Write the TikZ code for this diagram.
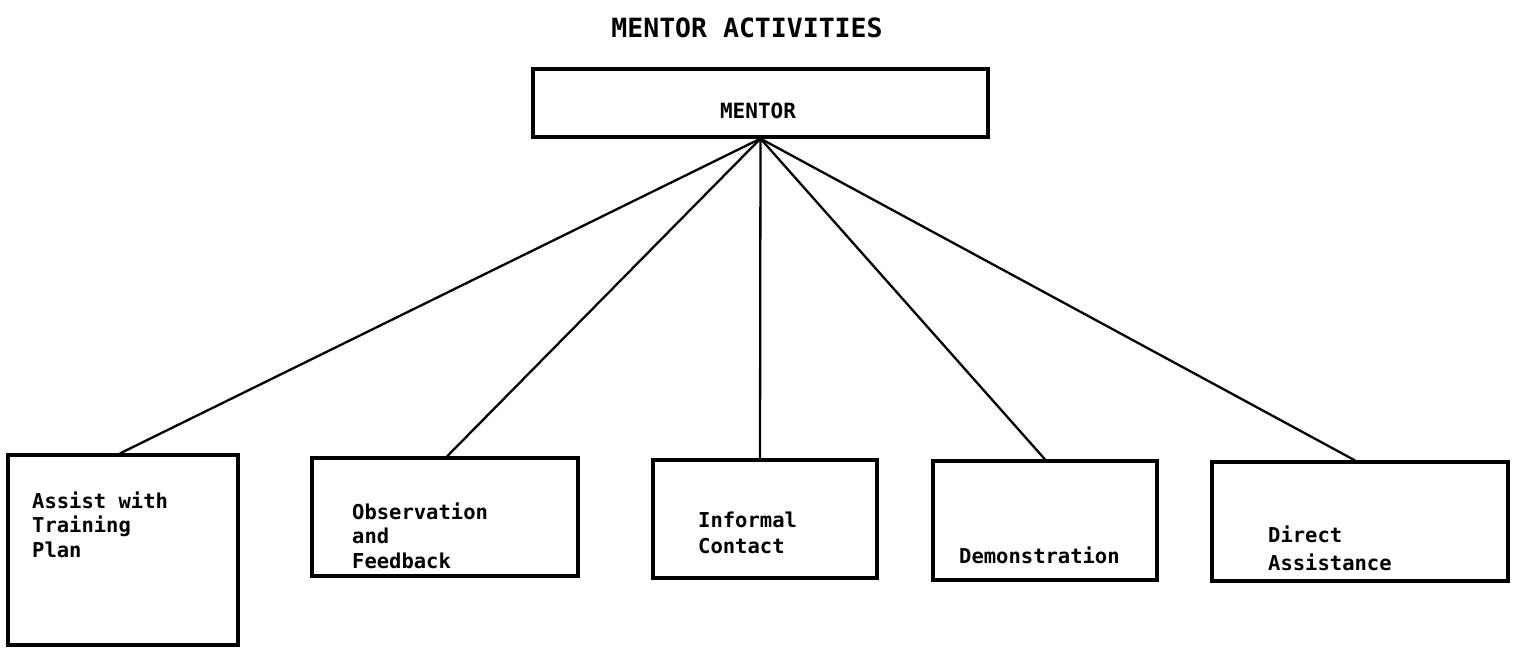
\documentclass[tikz,border=0pt]{standalone}
\usepackage{fontspec}
\newfontfamily\tw{DejaVu Sans Mono}
\begin{document}
\begin{tikzpicture}[x=1pt,y=-1pt,
  box/.style={draw,line width=3.2pt,inner sep=0,anchor=center},
  lbl/.style={inner sep=0,anchor=base west,align=left,font=\tw\bfseries\fontsize{20.5}{24.5}\selectfont},
  conn/.style={line width=2.3pt}]
\useasboundingbox[fill=white] (0,0) rectangle (1519,662);
\node[inner sep=0,anchor=base,font=\tw\bfseries\fontsize{26.5}{30}\selectfont] (title) at (747,37) {MENTOR ACTIVITIES};
\node[box,minimum width=455pt,minimum height=68pt] (mentor) at (760.5,103) {};
\node[inner sep=0,anchor=base,font=\tw\bfseries\fontsize{21}{25}\selectfont] (mtext) at (758,118) {MENTOR};
\node[box,minimum width=230pt,minimum height=190pt] (b1) at (123,550) {};
\node[box,minimum width=266pt,minimum height=118pt] (b2) at (445,517) {};
\node[box,minimum width=224pt,minimum height=118pt] (b3) at (765,519) {};
\node[box,minimum width=224pt,minimum height=119pt] (b4) at (1045,520.5) {};
\node[box,minimum width=296pt,minimum height=119pt] (b5) at (1360,521.5) {};
\node[lbl] (t1) at (32,557) {Assist with\\Training\\Plan};
\node[lbl] (t2) at (352,568) {Observation\\and\\Feedback};
\node[lbl,font=\tw\bfseries\fontsize{20.5}{26}\selectfont] (t3) at (698,553) {Informal\\Contact};
\node[lbl] (t4) at (959,563) {Demonstration};
\node[lbl,font=\tw\bfseries\fontsize{20.5}{28}\selectfont] (t5) at (1268,570) {Direct\\Assistance};
\draw[conn] (mentor.south) -- ([xshift=-3pt]b1.north);
\draw[conn] (mentor.south) -- ([xshift=2pt]b2.north);
\draw[conn] (mentor.south) -- ([xshift=-5pt]b3.north);
\draw[conn] (mentor.south) -- (b4.north);
\draw[conn] (mentor.south) -- ([xshift=-5pt]b5.north);
\end{tikzpicture}
\end{document}
